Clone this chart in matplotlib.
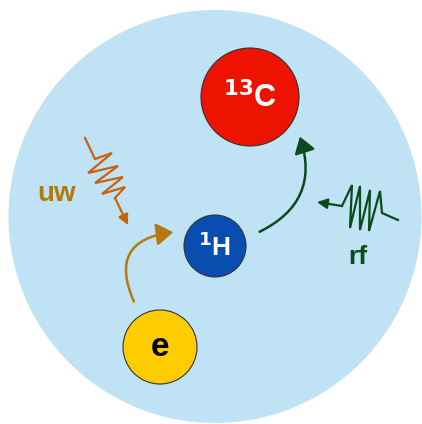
import matplotlib.pyplot as plt
from matplotlib.patches import Circle, FancyArrowPatch

# Diagram content (pixel coordinates of the reference image)
node_labels = ["e", "$^{\\mathbf{1}}$H", "$^{\\mathbf{13}}$C"]
node_x = [160, 215, 250]
node_y = [347, 246, 97]
node_r = [37, 31, 49]
node_colors = ["#FFCC00", "#0A4DB0", "#EE1300"]
text_colors = ["black", "white", "white"]
text_sizes = [24, 19, 22]

uw_x = [85, 95, 112, 88, 118, 95, 123, 102, 125, 115]
uw_y = [138, 159, 153, 173, 166, 183, 177, 194, 187, 198]
uw_tip = (128, 225)

rf_x = [398, 382, 380, 369, 370, 360, 360, 350, 352, 342]
rf_y = [220, 213, 191, 231, 190, 230, 186, 228, 185, 206]
rf_tip = (317, 202)

fig = plt.figure(figsize=(4.22, 4.24), dpi=100)
ax = fig.add_axes([0, 0, 1, 1])
ax.set_xlim(0, 422)
ax.set_ylim(424, 0)
ax.set_aspect("equal")
ax.axis("off")

# background disc
ax.add_patch(Circle((215, 216.5), 206.5, facecolor="#BFE3F5", edgecolor="none"))

for x, y, r, c, lab, tc, fs in zip(node_x, node_y, node_r, node_colors,
                                   node_labels, text_colors, text_sizes):
    ax.add_patch(Circle((x, y), r, facecolor=c, edgecolor="#333333", lw=0.8, zorder=3))
    ax.text(x, y + 1, lab, color=tc, fontsize=fs, fontweight="bold",
            ha="center", va="center", family="Liberation Sans", zorder=4)

# curved transfer arrows
brown = "#B47A0E"
green = "#0B4A1C"
a1 = FancyArrowPatch((135, 304), (176, 232), connectionstyle="arc3,rad=-0.7",
                     arrowstyle="-|>,head_length=6,head_width=4", color=brown,
                     lw=1.8, mutation_scale=1.7, zorder=2)
ax.add_patch(a1)
a2 = FancyArrowPatch((257, 233), (299, 134), connectionstyle="arc3,rad=0.45",
                     arrowstyle="-|>,head_length=6,head_width=4", color=green,
                     lw=1.8, mutation_scale=1.6, zorder=2)
ax.add_patch(a2)

# microwave zigzag
uw_col = "#C8620F"
ax.plot(uw_x, uw_y, color=uw_col, lw=1.6, solid_joinstyle="miter")
ax.annotate("", xy=uw_tip, xytext=(uw_x[-1], uw_y[-1]),
            arrowprops=dict(arrowstyle="-|>,head_length=0.6,head_width=0.3",
                            color=uw_col, lw=1.6, shrinkA=0, shrinkB=0))

# rf zigzag
ax.plot(rf_x, rf_y, color=green, lw=1.6, solid_joinstyle="miter")
ax.annotate("", xy=rf_tip, xytext=(rf_x[-1], rf_y[-1]),
            arrowprops=dict(arrowstyle="-|>,head_length=0.6,head_width=0.3",
                            color=green, lw=1.6, shrinkA=0, shrinkB=0))

ax.text(57, 194, "uw", color="#B07A0F", fontsize=20, fontweight="bold",
        ha="center", va="center", family="Liberation Sans")
ax.text(358, 257, "rf", color=green, fontsize=19, fontweight="bold",
        ha="center", va="center", family="Liberation Sans")

fig.savefig("out.png", dpi=100)
